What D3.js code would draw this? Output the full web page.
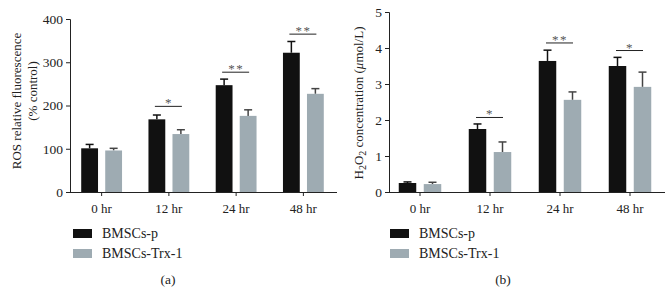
<!DOCTYPE html>
<html>
<head>
<meta charset="utf-8">
<script src="https://cdn.jsdelivr.net/npm/d3@7"></script>
<style>
  body { margin: 0; background: #fff; }
  svg text { font-family: "Liberation Serif", "Times New Roman", serif; fill: #222; }
</style>
</head>
<body>
<div id="chart"></div>
<script>
// categories and series
const hours = ['0 hr', '12 hr', '24 hr', '48 hr'];
const groups = ['BMSCs-p', 'BMSCs-Trx-1'];

// panel (a) ROS relative fluorescence (% control)
const rosP = [101, 168, 247, 322];
const rosPErr = [9, 10, 14, 26];
const rosT = [96, 134, 176, 227];
const rosTErr = [5, 10, 14, 12];
const rosSig = [null, '*', '**', '**'];
const rosSigY = [null, 198, 277, 365];

// panel (b) H2O2 concentration (umol/L)
const h2P = [0.25, 1.75, 3.64, 3.5];
const h2PErr = [0.03, 0.14, 0.3, 0.24];
const h2T = [0.22, 1.11, 2.56, 2.92];
const h2TErr = [0.05, 0.28, 0.22, 0.41];
const h2Sig = [null, '*', '**', '*'];
const h2SigY = [null, 2.07, 4.14, 3.93];

const rosTicks = [0, 100, 200, 300, 400];
const h2Ticks = [0, 1, 2, 3, 4, 5];

const colors = ['#111111', '#9eabb2'];
const errColors = ['#111111', '#444444'];

const svg = d3.select('#chart').append('svg')
    .attr('width', 670)
    .attr('height', 306);

function panel(opt) {
    const g = svg.append('g');
    const x = d3.scaleBand().domain(hours).range([opt.x0, opt.x1]);
    const y = d3.scaleLinear().domain(opt.domain).range([192, opt.yTop]);
    const inner = d3.scaleBand().domain(groups).range([0, x.bandwidth()])
        .paddingInner(0.3).paddingOuter(0.55);

    // y axis
    const ya = g.append('g').attr('transform', `translate(${opt.axisX},0)`)
        .call(d3.axisLeft(y).tickValues(opt.ticks).tickFormat(d3.format('d')).tickSize(4).tickPadding(3));
    ya.select('.domain').attr('stroke', '#222').attr('stroke-width', 1);
    ya.selectAll('.tick line').attr('stroke', '#222');
    ya.selectAll('.tick text').style('font-size', '13.5px').attr('fill', '#222');

    // x axis
    const xa = g.append('g').attr('transform', 'translate(0,192)')
        .call(d3.axisBottom(x).tickSize(4).tickSizeOuter(0).tickPadding(8));
    xa.select('.domain').attr('d', `M${opt.axisX},0.5H${opt.x1}`).attr('stroke', '#222');
    xa.selectAll('.tick line').attr('stroke', '#222');
    xa.selectAll('.tick text').style('font-size', '13px').attr('fill', '#222');

    const series = [opt.p, opt.t];
    const errs = [opt.pErr, opt.tErr];
    series.forEach((vals, si) => {
        const bx = h => x(h) + inner(groups[si]);
        const bw = inner.bandwidth();
        // error bars (upper only)
        hours.forEach((h, i) => {
            const cx = bx(h) + bw / 2;
            g.append('line')
                .attr('x1', cx).attr('x2', cx)
                .attr('y1', y(vals[i])).attr('y2', y(vals[i] + errs[si][i]))
                .attr('stroke', errColors[si]).attr('stroke-width', 1.5);
            g.append('line')
                .attr('x1', cx - 4).attr('x2', cx + 4)
                .attr('y1', y(vals[i] + errs[si][i])).attr('y2', y(vals[i] + errs[si][i]))
                .attr('stroke', errColors[si]).attr('stroke-width', 1.5);
        });
        g.selectAll(null).data(vals).join('rect')
            .attr('x', (d, i) => bx(hours[i]))
            .attr('y', d => y(d))
            .attr('width', bw)
            .attr('height', d => 192 - y(d))
            .attr('fill', colors[si]);
    });

    // significance brackets
    hours.forEach((h, i) => {
        if (!opt.sig[i]) return;
        const c = x(h) + x.bandwidth() / 2;
        const ly = y(opt.sigY[i]);
        g.append('line')
            .attr('x1', c - 14).attr('x2', c + 13)
            .attr('y1', ly).attr('y2', ly)
            .attr('stroke', '#222').attr('stroke-width', 1);
        g.append('text')
            .attr('x', c).attr('y', ly + 1)
            .attr('text-anchor', 'middle')
            .style('font-size', '13px')
            .style('letter-spacing', '1.5px')
            .style('fill', '#555')
            .text(opt.sig[i]);
    });

    // legend
    groups.forEach((name, i) => {
        g.append('rect')
            .attr('x', opt.legendX).attr('y', 229 + i * 20)
            .attr('width', 19).attr('height', 9)
            .attr('fill', colors[i]);
        g.append('text')
            .attr('x', opt.legendX + 29).attr('y', 238 + i * 20)
            .style('font-size', '14px')
            .text(name);
    });

    g.append('text')
        .attr('x', opt.labelX).attr('y', 284)
        .attr('text-anchor', 'middle')
        .style('font-size', '13.5px')
        .text(opt.label);
    return g;
}

const ga = panel({
    x0: 68, x1: 337, axisX: 70, domain: [0, 400], yTop: 19, ticks: rosTicks,
    p: rosP, pErr: rosPErr, t: rosT, tErr: rosTErr, sig: rosSig, sigY: rosSigY,
    legendX: 73, labelX: 168, label: '(a)'
});

ga.append('text')
    .attr('transform', 'translate(21,101) rotate(-90)')
    .attr('text-anchor', 'middle')
    .style('font-size', '13px')
    .text('ROS relative fluorescence');
ga.append('text')
    .attr('transform', 'translate(37,91) rotate(-90)')
    .attr('text-anchor', 'middle')
    .style('font-size', '13px')
    .text('(% control)');

const gb = panel({
    x0: 385, x1: 665, axisX: 389, domain: [0, 5], yTop: 12, ticks: h2Ticks,
    p: h2P, pErr: h2PErr, t: h2T, tErr: h2TErr, sig: h2Sig, sigY: h2SigY,
    legendX: 390, labelX: 503, label: '(b)'
});

const yl = gb.append('text')
    .attr('transform', 'translate(363,103) rotate(-90)')
    .attr('text-anchor', 'middle')
    .style('font-size', '13px');
yl.append('tspan').text('H');
yl.append('tspan').attr('dy', 3).style('font-size', '10px').text('2');
yl.append('tspan').attr('dy', -3).text('O');
yl.append('tspan').attr('dy', 3).style('font-size', '10px').text('2');
yl.append('tspan').attr('dy', -3).text(' concentration (');
yl.append('tspan').style('font-style', 'italic').text('\u03bc');
yl.append('tspan').text('mol/L)');
</script>
</body>
</html>
